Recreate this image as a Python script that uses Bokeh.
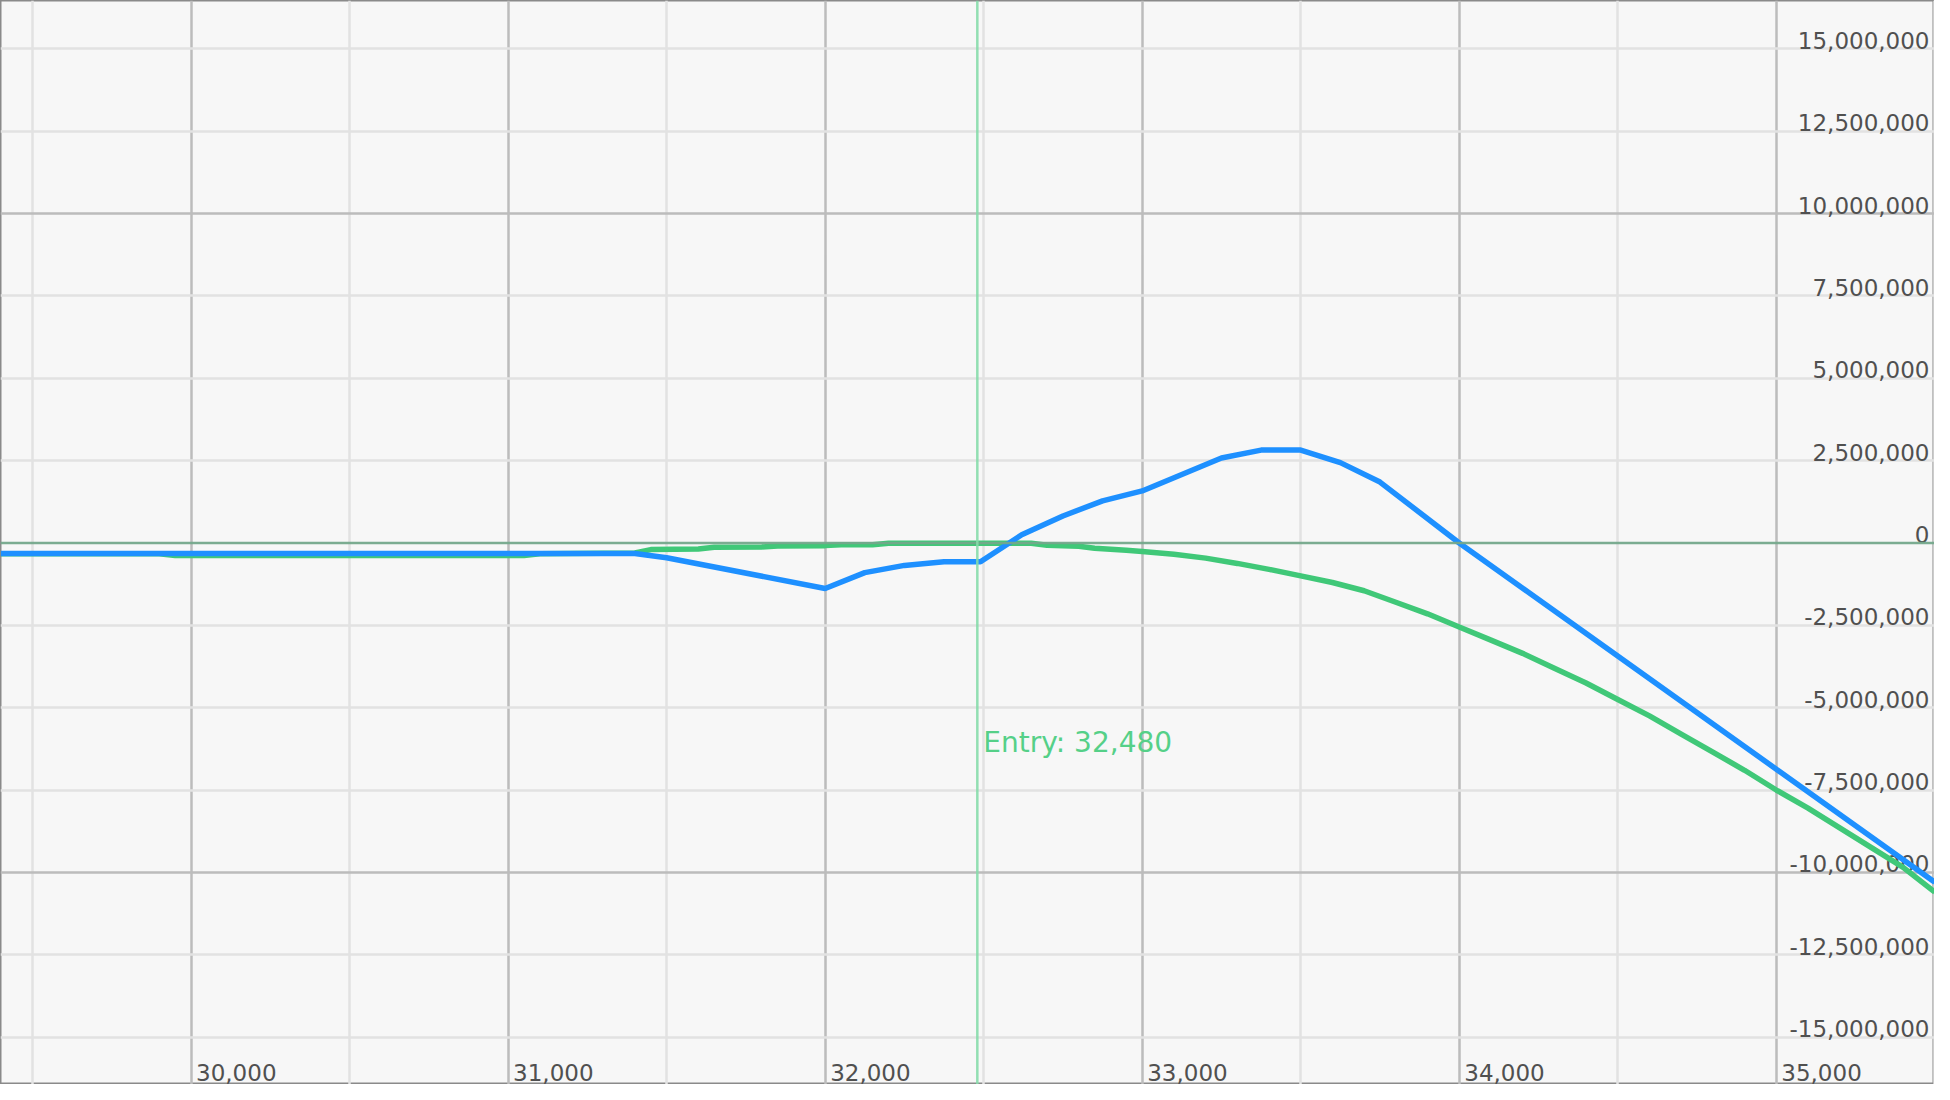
from bokeh.plotting import figure
from bokeh.models import Range1d, Grid, FixedTicker, Span
from bokeh.core.properties import value
from bokeh.embed import file_html
from bokeh.resources import INLINE

# ---- data ----
BLUE_X = [29400, 31400, 31500, 32000, 32125, 32250, 32375, 32490, 32620, 32750,
          32875, 33000, 33125, 33250, 33375, 33500, 33625, 33750, 34000, 35500]
BLUE_Y = [-320000, -320000, -450000, -1380000, -900000, -680000, -570000, -570000,
          250000, 820000, 1280000, 1580000, 2080000, 2580000, 2820000, 2820000,
          2440000, 1850000, 0, -10300000]

GREEN_X = [29400, 29900, 29950, 31050, 31100, 31400, 31450, 31600, 31650, 31800,
           31850, 32000, 32050, 32150, 32200, 32650, 32700, 32800, 32850, 32950,
           33000, 33100, 33200, 33300, 33400, 33500, 33600, 33700, 33800, 33900,
           34000, 34100, 34200, 34300, 34400, 34500, 34600, 34700, 34800, 34900,
           35000, 35100, 35200, 35300, 35400, 35500]
GREEN_Y = [-330000, -330000, -380000, -380000, -330000, -300000, -200000, -180000,
           -130000, -120000, -90000, -80000, -50000, -50000, -10000, -10000,
           -70000, -100000, -160000, -220000, -260000, -340000, -460000, -620000,
           -800000, -1000000, -1200000, -1450000, -1800000, -2150000, -2550000,
           -2950000, -3350000, -3800000, -4250000, -4750000, -5250000, -5800000,
           -6350000, -6900000, -7500000, -8050000, -8650000, -9250000, -9850000,
           -10600000]

ENTRY = 32480
ENTRY_TEXT = "Entry: 32,480"
ENTRY_LABEL_Y = -6050000

X_TICKS = [30000, 31000, 32000, 33000, 34000, 35000]
X_LABELS = ["30,000", "31,000", "32,000", "33,000", "34,000", "35,000"]
X_MINOR = [29500, 30500, 31500, 32500, 33500, 34500, 35500]

Y_TICKS = [15000000, 12500000, 10000000, 7500000, 5000000, 2500000, 0,
           -2500000, -5000000, -7500000, -10000000, -12500000, -15000000]
Y_LABELS = ["15,000,000", "12,500,000", "10,000,000", "7,500,000", "5,000,000",
            "2,500,000", "0", "-2,500,000", "-5,000,000", "-7,500,000",
            "-10,000,000", "-12,500,000", "-15,000,000"]
Y_MAJOR = [10000000, -10000000]
Y_MINOR = [15000000, 12500000, 7500000, 5000000, 2500000,
           -2500000, -5000000, -7500000, -12500000, -15000000]

X_START, X_END = 29399, 35499
Y_START, Y_END = -16440000, 16470000

FONT = value("DejaVu Sans")

p = figure(width=1934, height=1084,
           x_range=Range1d(X_START, X_END), y_range=Range1d(Y_START, Y_END),
           output_backend="svg", toolbar_location=None,
           x_axis_location=None, y_axis_location=None, min_border=0,
           background_fill_color="#f7f7f7", border_fill_color="#f7f7f7",
           outline_line_color="#8a8a8a", outline_line_width=2)
p.xgrid.grid_line_color = None
p.ygrid.grid_line_color = None

p.add_layout(Grid(dimension=0, ticker=FixedTicker(ticks=X_TICKS, minor_ticks=X_MINOR),
                  grid_line_color="#bcbcbc", grid_line_width=2.5,
                  minor_grid_line_color="#e2e2e2", minor_grid_line_width=2.5))
p.add_layout(Grid(dimension=1, ticker=FixedTicker(ticks=Y_MAJOR, minor_ticks=Y_MINOR),
                  grid_line_color="#bcbcbc", grid_line_width=2.5,
                  minor_grid_line_color="#e2e2e2", minor_grid_line_width=2.5))

p.add_layout(Span(location=0, dimension="width", line_color="#74a88b",
                  line_width=2.5, line_alpha=0.95))
p.add_layout(Span(location=ENTRY, dimension="height", line_color="#86dcaa",
                  line_width=2.5, line_alpha=0.9))

# tick labels (inside plot)
p.text(x=[X_END] * len(Y_TICKS), y=Y_TICKS, text=Y_LABELS, x_offset=-5,
       text_align="right", text_baseline="bottom", text_font=FONT,
       text_font_size="23px", text_color="#505050")
p.text(x=X_TICKS, y=[Y_START] * len(X_TICKS), text=X_LABELS, x_offset=5,
       y_offset=-4, text_align="left", text_baseline="bottom", text_font=FONT,
       text_font_size="23px", text_color="#505050")

p.text(x=[ENTRY], y=[ENTRY_LABEL_Y], text=[ENTRY_TEXT], x_offset=6,
       text_align="left", text_baseline="middle", text_font=FONT,
       text_font_size="28px", text_color="#55d088")

p.line(GREEN_X, GREEN_Y, line_color="#40c878", line_width=5.5)
p.line(BLUE_X, BLUE_Y, line_color="#1e90ff", line_width=5.5)

open("out.html", "w").write(file_html(p, INLINE))
